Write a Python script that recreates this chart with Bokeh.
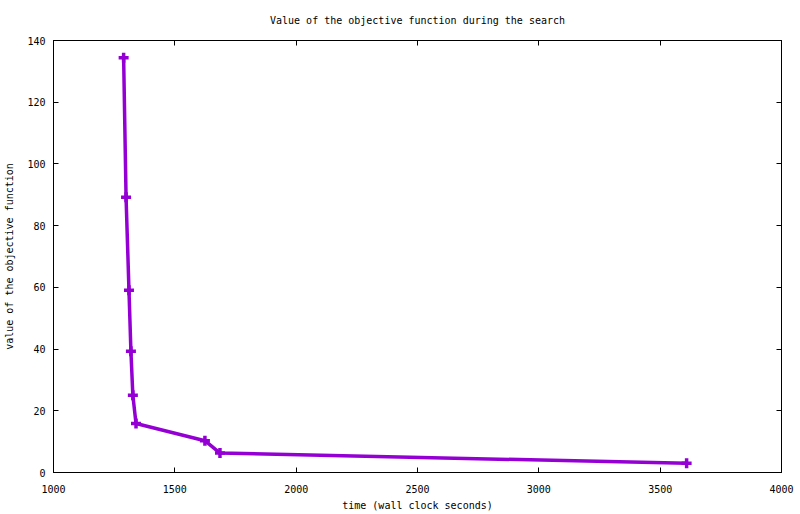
from bokeh.plotting import figure
from bokeh.models import LinearAxis, FixedTicker, Range1d
from bokeh.embed import file_html
from bokeh.resources import INLINE

# data
time_s = [1289, 1299, 1311, 1319, 1327, 1340, 1624, 1686, 3609]
objective = [134.4, 89.2, 59.1, 39.3, 25.0, 15.9, 10.3, 6.3, 3.0]

x_ticks = [1000, 1500, 2000, 2500, 3000, 3500, 4000]
y_ticks = [0, 20, 40, 60, 80, 100, 120, 140]

title_text = "Value of the objective function during the search"
x_label = "time (wall clock seconds)"
y_label = "value of the objective function"

FONT = "DejaVu Sans Mono"
FS = "10px"
COLOR = "#9400d3"

p = figure(width=800, height=514, output_backend="svg", toolbar_location=None,
           x_range=Range1d(1000, 4000), y_range=Range1d(0, 140),
           min_border_left=53, min_border_right=19, min_border_top=40,
           min_border_bottom=42, title=title_text)

p.title.text_font = FONT
p.title.text_font_size = FS
p.title.text_font_style = "normal"
p.title.align = "center"
p.title.vertical_align = "top"
p.title.text_color = "black"
p.title.standoff = 26

p.xgrid.visible = False
p.ygrid.visible = False
p.outline_line_color = "black"
p.outline_line_width = 1
p.background_fill_color = "white"
p.border_fill_color = "white"

for ax in p.xaxis:
    ax.ticker = FixedTicker(ticks=x_ticks)
    ax.axis_label = x_label
for ax in p.yaxis:
    ax.ticker = FixedTicker(ticks=y_ticks)
    ax.axis_label = y_label

def style_axis(ax, labels=True):
    ax.major_tick_in = 5
    ax.major_tick_out = 0
    ax.minor_tick_line_color = None
    ax.axis_line_color = "black"
    ax.major_tick_line_color = "black"
    ax.major_label_text_font = FONT
    ax.major_label_text_font_size = FS
    ax.major_label_text_color = "black"
    ax.axis_label_text_font = FONT
    ax.axis_label_text_font_size = FS
    ax.axis_label_text_font_style = "normal"
    ax.axis_label_text_color = "black"
    if not labels:
        ax.major_label_text_color = None

for ax in p.xaxis:
    style_axis(ax)
    ax.major_label_standoff = 12
    ax.axis_label_standoff = 4
for ax in p.yaxis:
    style_axis(ax)
    ax.major_label_standoff = 8
    ax.axis_label_standoff = 9

top = LinearAxis(ticker=FixedTicker(ticks=x_ticks))
style_axis(top, labels=False)
top.major_label_text_font_size = "0px"
top.major_label_standoff = 0
p.add_layout(top, "above")

right = LinearAxis(ticker=FixedTicker(ticks=y_ticks))
style_axis(right, labels=False)
right.major_label_text_font_size = "0px"
right.major_label_standoff = 0
p.add_layout(right, "right")

p.line(time_s, objective, line_color=COLOR, line_width=3.5)
p.scatter(time_s, objective, marker="cross", size=10, line_color=COLOR, line_width=3.5)

open("out.html", "w").write(file_html(p, INLINE))
